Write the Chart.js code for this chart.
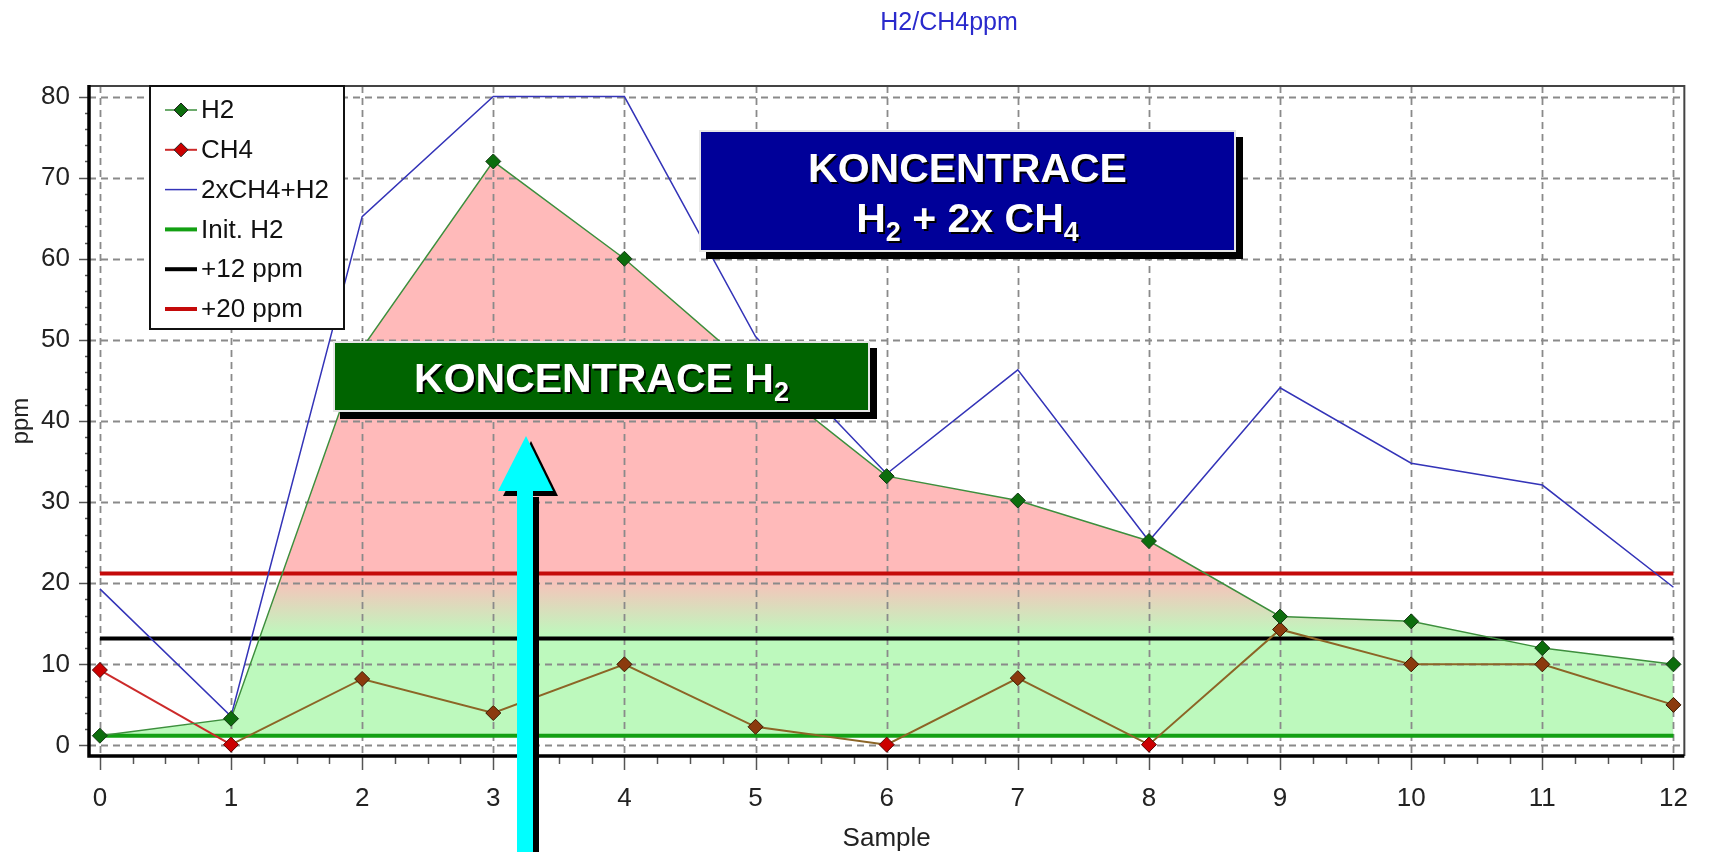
<!DOCTYPE html>
<html><head><meta charset="utf-8">
<script src="https://cdn.jsdelivr.net/npm/chart.js@4.4.1/dist/chart.umd.min.js"></script>
<style>html,body{margin:0;padding:0;background:#fff;}canvas{display:block;}</style>
</head><body>
<canvas id="c" width="1715" height="852"></canvas>
<script>
// ---- data ----
const samples = [0, 1, 2, 3, 4, 5, 6, 7, 8, 9, 10, 11, 12];
const h2 = [1.2, 3.3, 49, 72, 60, 46, 33.2, 30.2, 25.2, 15.9, 15.3, 12.0, 10.0];
const ch4 = [9.3, 0.1, 8.2, 4.0, 10.0, 2.3, 0.1, 8.3, 0.1, 14.3, 10.0, 10.0, 5.0];
const h2Plus2ch4 = [19.3, 3.6, 65.2, 80, 80, 50.4, 33.5, 46.3, 25.2, 44.1, 34.8, 32.1, 19.5];
const initH2 = 1.2;
const plus12 = 13.2;
const plus20 = 21.2;
const xTicks = [0, 1, 2, 3, 4, 5, 6, 7, 8, 9, 10, 11, 12];
const yTicks = [0, 10, 20, 30, 40, 50, 60, 70, 80];
const seriesLabels = ['H2', 'CH4', '2xCH4+H2', 'Init. H2', '+12 ppm', '+20 ppm'];
const chartTitle = 'H2/CH4ppm';
const xTitle = 'Sample';
const yTitle = 'ppm';
const boxH2 = [['KONCENTRACE H', '2']];
const boxSum = [['KONCENTRACE'], ['H', '2', ' + 2x CH', '4']];

// ---- styles ----
const FONT = "'Liberation Sans', Arial, sans-serif";
const PINK = '#ffbaba', LGREEN = '#bdf9bd';
const RED_LINE = '#cc2a2a', BROWN_LINE = '#8c6526';
const RED_PT = '#cc0000', BROWN_PT = '#8b3a0e';
const inside = i => ch4[i] > initH2 && ch4[i] < h2[i];
const pts = arr => samples.map((x, i) => ({x, y: arr[i]}));
const hline = v => [{x: xTicks[0], y: v}, {x: xTicks[xTicks.length - 1], y: v}];

const fillGradient = (ctx) => {
  const chart = ctx.chart;
  if (!chart.chartArea) return PINK;
  const ys = chart.scales.y;
  const g = chart.ctx.createLinearGradient(0, ys.getPixelForValue(plus20), 0, ys.getPixelForValue(plus12 + 0.3));
  g.addColorStop(0, PINK);
  g.addColorStop(1, LGREEN);
  return g;
};

function diamond(ctx, x, y, r, fill, stroke) {
  ctx.beginPath();
  ctx.moveTo(x - r, y); ctx.lineTo(x, y - r); ctx.lineTo(x + r, y); ctx.lineTo(x, y + r); ctx.closePath();
  ctx.fillStyle = fill; ctx.fill();
  ctx.lineWidth = 1; ctx.strokeStyle = stroke; ctx.stroke();
}

const gridPlugin = {
  id: 'dashGrid',
  beforeDatasetsDraw(chart) {
    const {ctx, chartArea: a, scales: {x, y}} = chart;
    ctx.save();
    ctx.strokeStyle = '#8a8a8a'; ctx.lineWidth = 1.8; ctx.setLineDash([7, 5]);
    yTicks.forEach(v => { const py = Math.round(y.getPixelForValue(v)) + 0.5; ctx.beginPath(); ctx.moveTo(a.left, py); ctx.lineTo(a.right, py); ctx.stroke(); });
    xTicks.forEach(v => { const px = Math.round(x.getPixelForValue(v)) + 0.5; ctx.beginPath(); ctx.moveTo(px, a.top); ctx.lineTo(px, a.bottom); ctx.stroke(); });
    ctx.restore();
  }
};

const framePlugin = {
  id: 'frame',
  afterDatasetsDraw(chart) {
    const {ctx, chartArea: a, scales: {x, y}} = chart;
    ctx.save();
    // ticks
    ctx.strokeStyle = '#555'; ctx.lineWidth = 1.5;
    for (let v = xTicks[0]; v <= xTicks[xTicks.length - 1] + 1e-9; v += 0.25) {
      const px = Math.round(x.getPixelForValue(v)) + 0.5;
      const major = Math.abs(v - Math.round(v)) < 1e-6;
      ctx.beginPath(); ctx.moveTo(px, a.bottom); ctx.lineTo(px, a.bottom + (major ? 14 : 8)); ctx.stroke();
    }
    for (let v = yTicks[0]; v <= yTicks[yTicks.length - 1] + 1e-9; v += 2) {
      const py = Math.round(y.getPixelForValue(v)) + 0.5;
      const major = v % 10 === 0;
      ctx.beginPath(); ctx.moveTo(a.left - (major ? 10 : 4), py); ctx.lineTo(a.left, py); ctx.stroke();
    }
    // frame
    ctx.strokeStyle = '#444'; ctx.lineWidth = 2;
    ctx.beginPath(); ctx.moveTo(a.left, a.top); ctx.lineTo(a.right, a.top); ctx.lineTo(a.right, a.bottom); ctx.stroke();
    ctx.strokeStyle = '#000'; ctx.lineWidth = 3.5;
    ctx.beginPath(); ctx.moveTo(a.left, a.top - 1); ctx.lineTo(a.left, a.bottom); ctx.lineTo(a.right, a.bottom); ctx.stroke();

    // legend
    const lx = 150, ly = a.top, lw = 194, lh = 243;
    ctx.fillStyle = '#fff'; ctx.fillRect(lx, ly, lw, lh);
    ctx.strokeStyle = '#111'; ctx.lineWidth = 2; ctx.strokeRect(lx, ly, lw, lh);
    chart.data.datasets.forEach((ds, i) => {
      const cy = ly + 24 + i * 39.8;
      ctx.beginPath(); ctx.moveTo(165, cy); ctx.lineTo(197, cy);
      ctx.strokeStyle = ds.legendColor; ctx.lineWidth = ds.borderWidth; ctx.stroke();
      if (ds.legendPoint) diamond(ctx, 181, cy, 7, ds.legendPoint, '#222');
      ctx.fillStyle = '#111'; ctx.font = '26px ' + FONT; ctx.textBaseline = 'middle'; ctx.textAlign = 'left';
      ctx.fillText(ds.label, 201, cy + 1);
    });
    ctx.restore();
  }
};

function drawRuns(ctx, runs, cx, baseline, size, subSize, subDy) {
  const fontOf = k => 'bold ' + (k % 2 ? subSize : size) + 'px ' + FONT;
  let total = 0;
  runs.forEach((t, k) => { ctx.font = fontOf(k); total += ctx.measureText(t).width; });
  let x = cx - total / 2;
  runs.forEach((t, k) => {
    ctx.font = fontOf(k);
    ctx.fillText(t, x, baseline + (k % 2 ? subDy : 0));
    x += ctx.measureText(t).width;
  });
}

function textBox(ctx, x, y, w, h, fill, lines, baselines) {
  ctx.fillStyle = '#000'; ctx.fillRect(x + 7, y + 7, w, h);
  ctx.fillStyle = fill; ctx.fillRect(x, y, w, h);
  ctx.strokeStyle = '#e6e6e6'; ctx.lineWidth = 2; ctx.strokeRect(x + 1, y + 1, w - 2, h - 2);
  ctx.save();
  ctx.fillStyle = '#fff'; ctx.textAlign = 'left'; ctx.textBaseline = 'alphabetic';
  ctx.shadowColor = '#000'; ctx.shadowOffsetX = 2; ctx.shadowOffsetY = 2; ctx.shadowBlur = 0;
  lines.forEach((runs, i) => drawRuns(ctx, runs, x + w / 2, baselines[i], 41, 27, 9));
  ctx.restore();
}

const overlayPlugin = {
  id: 'overlay',
  afterDraw(chart) {
    const ctx = chart.ctx;
    ctx.save();
    // title
    ctx.fillStyle = '#2a2acc'; ctx.font = '25px ' + FONT; ctx.textAlign = 'center'; ctx.textBaseline = 'alphabetic';
    ctx.fillText(chartTitle, 949, 30);
    // annotation boxes
    textBox(ctx, 699, 130, 537, 122, '#000099', boxSum, [182, 232]);
    textBox(ctx, 333, 341, 537, 71, '#006400', boxH2, [392]);
    // arrow
    const sx = 6, sy = 6;
    ctx.fillStyle = '#000';
    ctx.fillRect(517 + sx, 491 + sy, 16, 852 - 491);
    ctx.beginPath(); ctx.moveTo(498 + sx - 1, 491 + sy - 1); ctx.lineTo(553 + sx - 1, 491 + sy - 1); ctx.lineTo(526 + sx - 1, 436 + sy - 1); ctx.closePath(); ctx.fill();
    ctx.fillStyle = '#00ffff';
    ctx.fillRect(517, 489, 16, 852 - 489);
    ctx.beginPath(); ctx.moveTo(498, 491); ctx.lineTo(553, 491); ctx.lineTo(526, 436); ctx.closePath(); ctx.fill();
    ctx.restore();
  }
};

new Chart(document.getElementById('c'), {
  type: 'line',
  data: {
    datasets: [
      {
        label: seriesLabels[0], data: pts(h2), order: 0,
        borderColor: '#3d8f3d', borderWidth: 1.5, legendColor: '#3d8f3d', legendPoint: '#0d6d0d',
        pointStyle: 'rectRot', pointRadius: 7.5, pointBackgroundColor: '#0d6d0d', pointBorderColor: '#143814', pointBorderWidth: 1,
        fill: {value: initH2}, backgroundColor: fillGradient
      },
      {
        label: seriesLabels[1], data: pts(ch4), order: 1,
        borderColor: RED_LINE, borderWidth: 2, legendColor: RED_LINE, legendPoint: RED_PT,
        segment: {borderColor: c => (inside(c.p0DataIndex) || inside(c.p1DataIndex)) ? BROWN_LINE : RED_LINE},
        pointStyle: 'rectRot', pointRadius: 7.5,
        pointBackgroundColor: c => inside(c.dataIndex) ? BROWN_PT : RED_PT,
        pointBorderColor: c => inside(c.dataIndex) ? '#3a1a00' : '#5a0000', pointBorderWidth: 1,
        fill: false
      },
      {
        label: seriesLabels[2], data: pts(h2Plus2ch4), order: 2,
        borderColor: '#3434b8', borderWidth: 1.5, legendColor: '#3434b8', pointRadius: 0, fill: false
      },
      {
        label: seriesLabels[3], data: hline(initH2), order: 5,
        borderColor: '#13a013', borderWidth: 4, legendColor: '#13a013', pointRadius: 0, fill: false
      },
      {
        label: seriesLabels[4], data: hline(plus12), order: 4,
        borderColor: '#000000', borderWidth: 4, legendColor: '#000000', pointRadius: 0, fill: false
      },
      {
        label: seriesLabels[5], data: hline(plus20), order: 3,
        borderColor: '#c40a0a', borderWidth: 4, legendColor: '#c40a0a', pointRadius: 0, fill: false
      }
    ]
  },
  options: {
    responsive: false, animation: false, devicePixelRatio: 1,
    layout: {padding: {top: 86, right: 12, left: 0, bottom: 0}},
    elements: {line: {tension: 0}},
    plugins: {
      legend: {display: false}, tooltip: {enabled: false},
      filler: {drawTime: 'beforeDatasetsDraw'}
    },
    scales: {
      x: {
        type: 'linear', min: -0.083, max: 12.083,
        afterFit: s => { s.height = 96; },
        afterBuildTicks: s => { s.ticks = xTicks.map(v => ({value: v})); },
        grid: {display: false, drawTicks: false}, border: {display: false},
        ticks: {padding: 27, color: '#222', font: {family: FONT, size: 26}, maxRotation: 0},
        title: {display: true, text: xTitle, color: '#222', font: {family: FONT, size: 26}, padding: {top: 0, bottom: -2}}
      },
      y: {
        type: 'linear', min: -1.3, max: 81.3,
        afterFit: s => { s.width = 89; },
        afterBuildTicks: s => { s.ticks = yTicks.map(v => ({value: v})); },
        grid: {display: false, drawTicks: false}, border: {display: false},
        ticks: {padding: 19, color: '#222', font: {family: FONT, size: 26}},
        title: {display: true, text: yTitle, color: '#222', font: {family: FONT, size: 24}, padding: {top: 7, bottom: 0}}
      }
    }
  },
  plugins: [gridPlugin, framePlugin, overlayPlugin]
});
</script>
</body></html>
